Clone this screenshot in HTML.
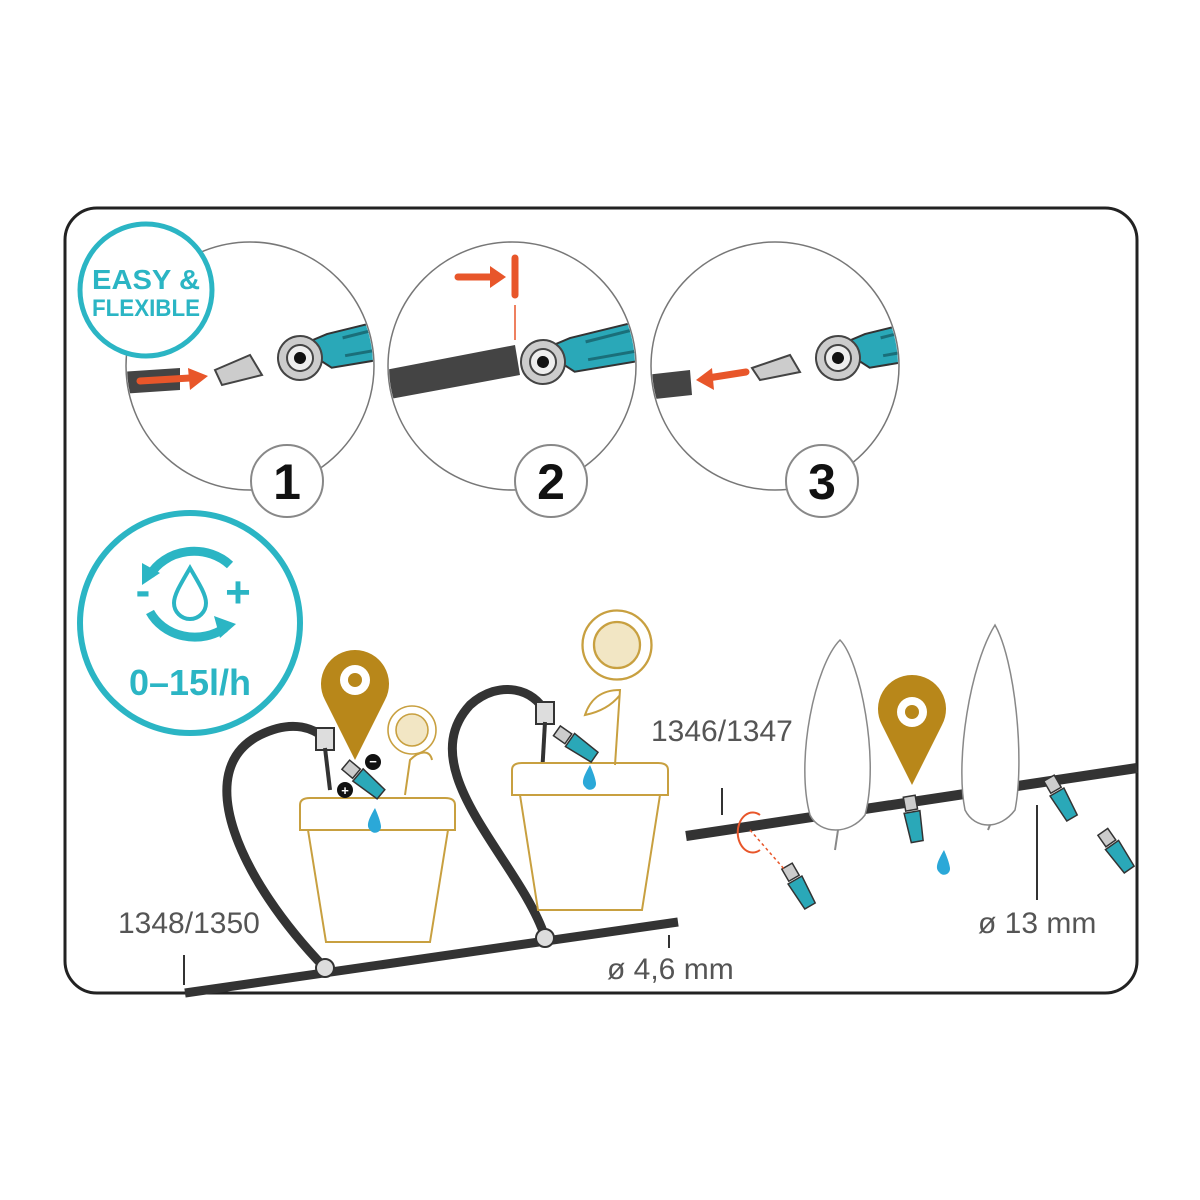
<!DOCTYPE html>
<html><head><style>
html,body{margin:0;padding:0;background:#fff;}
svg{display:block;}
text{font-family:"Liberation Sans",sans-serif;}
</style></head><body>
<svg width="1200" height="1200" viewBox="0 0 1200 1200">
<defs>
<clipPath id="c1"><circle cx="250" cy="366" r="123"/></clipPath>
<clipPath id="c2"><circle cx="512" cy="366" r="123"/></clipPath>
<clipPath id="c3"><circle cx="775" cy="366" r="123"/></clipPath>
<g id="conn">
  <path d="M0,-12 L30,-20 L110,-28 L110,12 L30,14 Z" fill="#2AA8B8" stroke="#333" stroke-width="2"/>
  <path d="M45,-14 L100,-20 M45,4 L100,2" stroke="#1a6f7a" stroke-width="3"/>
  <circle cx="0" cy="0" r="22" fill="#ccc" stroke="#444" stroke-width="2"/>
  <circle cx="0" cy="0" r="13" fill="#eee" stroke="#444" stroke-width="2"/>
  <circle cx="0" cy="0" r="6" fill="#111"/>
</g>
<g id="sun">
  <circle r="30" fill="#fff" stroke="#c8a040" stroke-width="2"/>
  <circle r="20" fill="#f2e6c4" stroke="#c8a040" stroke-width="2"/>
</g>
<g id="drip">
  <rect x="-6" y="-16" width="12" height="14" fill="#ccc" stroke="#333" stroke-width="1.5"/>
  <path d="M-8,0 L8,0 L6,30 L-6,30 Z" fill="#2AA8B8" stroke="#333" stroke-width="1.5"/>
</g>
</defs>

<rect x="65" y="208" width="1072" height="785" rx="32" fill="#fff" stroke="#222" stroke-width="3"/>

<circle cx="250" cy="366" r="124" fill="#fff" stroke="#777" stroke-width="1.5"/>
<circle cx="512" cy="366" r="124" fill="#fff" stroke="#777" stroke-width="1.5"/>
<circle cx="775" cy="366" r="124" fill="#fff" stroke="#777" stroke-width="1.5"/>

<g clip-path="url(#c1)">
<path d="M120,372 L180,368 L180,390 L120,394 Z" fill="#444"/>
<path d="M140,381 L190,378" stroke="#E8562A" stroke-width="7" stroke-linecap="round"/>
<path d="M188,368 L208,376 L190,390 Z" fill="#E8562A"/>
<path d="M215,370 L250,355 L262,375 L222,385 Z" fill="#ccc" stroke="#444" stroke-width="2"/>
<use href="#conn" transform="translate(300,358) rotate(-8)"/>
</g>

<g clip-path="url(#c2)">
<path d="M385,370 L515,345 L520,375 L385,400 Z" fill="#444"/>
<use href="#conn" transform="translate(543,362) rotate(-8)"/>
</g>
<path d="M458,277 L492,277" stroke="#E8562A" stroke-width="7" stroke-linecap="round"/>
<path d="M490,266 L506,277 L490,288 Z" fill="#E8562A"/>
<path d="M515,258 L515,295" stroke="#E8562A" stroke-width="7" stroke-linecap="round"/>
<path d="M515,305 L515,340" stroke="#E8562A" stroke-width="1.5"/>

<g clip-path="url(#c3)">
<path d="M645,375 L690,370 L692,395 L645,400 Z" fill="#444"/>
<path d="M708,378 L746,372" stroke="#E8562A" stroke-width="7" stroke-linecap="round"/>
<path d="M712,368 L696,380 L714,390 Z" fill="#E8562A"/>
<path d="M752,368 L790,355 L800,372 L760,380 Z" fill="#ccc" stroke="#444" stroke-width="2"/>
<use href="#conn" transform="translate(838,358) rotate(-8)"/>
</g>

<g font-size="50" font-weight="bold" text-anchor="middle" fill="#111">
<circle cx="287" cy="481" r="36" fill="#fff" stroke="#888" stroke-width="2"/><text x="287" y="499">1</text>
<circle cx="551" cy="481" r="36" fill="#fff" stroke="#888" stroke-width="2"/><text x="551" y="499">2</text>
<circle cx="822" cy="481" r="36" fill="#fff" stroke="#888" stroke-width="2"/><text x="822" y="499">3</text>
</g>

<circle cx="146" cy="290" r="66" fill="#fff" stroke="#2BB5C4" stroke-width="5"/>
<text x="146" y="289" font-size="28" font-weight="bold" fill="#2BB5C4" text-anchor="middle" textLength="108" lengthAdjust="spacingAndGlyphs">EASY &amp;</text>
<text x="146" y="316" font-size="24" font-weight="bold" fill="#2BB5C4" text-anchor="middle" textLength="108" lengthAdjust="spacingAndGlyphs">FLEXIBLE</text>

<circle cx="190" cy="623" r="110" fill="#fff" stroke="#2BB5C4" stroke-width="6"/>
<path d="M150,575 A50,45 0 0 1 230,565" fill="none" stroke="#2BB5C4" stroke-width="9"/>
<path d="M142,585 l0,-22 l18,10 Z" fill="#2BB5C4"/>
<path d="M150,612 A50,45 0 0 0 225,628" fill="none" stroke="#2BB5C4" stroke-width="9"/>
<path d="M236,624 l-22,-8 l6,22 Z" fill="#2BB5C4"/>
<path d="M190,568 C180,585 174,595 174,603 A16,16 0 0 0 206,603 C206,595 200,585 190,568 Z" fill="#fff" stroke="#2BB5C4" stroke-width="4"/>
<text x="143" y="605" font-size="44" font-weight="bold" fill="#2BB5C4" text-anchor="middle">-</text>
<text x="238" y="607" font-size="44" font-weight="bold" fill="#2BB5C4" text-anchor="middle">+</text>
<text x="190" y="695" font-size="36" font-weight="bold" fill="#2BB5C4" text-anchor="middle">0–15l/h</text>

<path d="M185,993 L678,922" stroke="#333" stroke-width="9"/>
<path d="M325,968 C240,880 190,770 260,735 C295,718 315,730 325,738" fill="none" stroke="#333" stroke-width="9"/>
<path d="M545,937 C520,860 410,770 470,705 C500,678 535,690 545,712" fill="none" stroke="#333" stroke-width="9"/>
<circle cx="325" cy="968" r="9" fill="#ddd" stroke="#333" stroke-width="2"/>
<circle cx="545" cy="938" r="9" fill="#ddd" stroke="#333" stroke-width="2"/>
<rect x="316" y="728" width="18" height="22" fill="#ddd" stroke="#333" stroke-width="2"/>
<rect x="536" y="702" width="18" height="22" fill="#ddd" stroke="#333" stroke-width="2"/>
<path d="M325,748 L330,790" stroke="#333" stroke-width="4"/>
<path d="M545,722 L542,775" stroke="#333" stroke-width="4"/>

<g fill="#fff" stroke="#c8a040" stroke-width="2">
<path d="M300,805 Q300,798 310,798 L445,798 Q455,798 455,805 L455,830 L300,830 Z"/>
<path d="M308,830 L448,830 L430,942 L326,942 Z"/>
<path d="M512,770 Q512,763 522,763 L658,763 Q668,763 668,770 L668,795 L512,795 Z"/>
<path d="M520,795 L660,795 L642,910 L538,910 Z"/>
<path d="M405,795 L410,760 C420,750 430,750 432,760 M615,765 L620,690 C600,690 590,700 585,715 C600,712 612,705 620,695"/>
</g>
<use href="#sun" transform="translate(412,730) scale(0.8)"/>
<use href="#sun" transform="translate(617,645) scale(1.15)"/>

<use href="#drip" transform="translate(358,775) rotate(-50)"/>
<use href="#drip" transform="translate(570,740) rotate(-55)"/>
<path d="M375,808 C368,820 366,826 370,830 A6,6 0 0 0 381,826 C380,820 378,815 375,808 Z" fill="#2BA8D8"/>
<path d="M590,765 C583,777 581,783 585,787 A6,6 0 0 0 596,783 C595,777 593,772 590,765 Z" fill="#2BA8D8"/>
<circle cx="345" cy="790" r="8" fill="#111"/><text x="345" y="795" font-size="13" fill="#fff" text-anchor="middle" font-weight="bold">+</text>
<circle cx="373" cy="762" r="8" fill="#111"/><text x="373" y="766" font-size="13" fill="#fff" text-anchor="middle" font-weight="bold">−</text>

<g fill="#B8871A">
<path d="M355,760 L325,700 A34,34 0 1 1 385,700 Z"/>
<path d="M912,785 L882,725 A34,34 0 1 1 942,725 Z"/>
</g>
<circle cx="355" cy="680" r="15" fill="#fff"/><circle cx="355" cy="680" r="7" fill="#B8871A"/>
<circle cx="912" cy="712" r="15" fill="#fff"/><circle cx="912" cy="712" r="7" fill="#B8871A"/>

<path d="M686,836 L1137,768" stroke="#333" stroke-width="10"/>
<g fill="#fff" stroke="#888" stroke-width="1.5">
<path d="M840,640 C860,660 880,760 865,815 C850,835 820,835 810,815 C795,760 815,665 840,640 Z"/>
<path d="M995,625 C1015,660 1025,760 1015,810 C1000,830 975,830 965,810 C955,760 970,665 995,625 Z"/>
</g>
<path d="M838,830 L835,850 M990,825 L988,830" stroke="#888" stroke-width="2"/>
<use href="#drip" transform="translate(912,812) rotate(-10)"/>
<path d="M944,850 C937,862 935,868 939,872 A6,6 0 0 0 950,868 C949,862 947,857 944,850 Z" fill="#2BA8D8"/>
<use href="#drip" transform="translate(1057,792) rotate(-30)"/>
<use href="#drip" transform="translate(1112,845) rotate(-35)"/>
<use href="#drip" transform="translate(795,880) rotate(-30)"/>
<path d="M750,830 L785,870" stroke="#E8562A" stroke-width="1.5" stroke-dasharray="3,3"/>
<path d="M760,815 A15,20 0 1 0 760,850" fill="none" stroke="#E8562A" stroke-width="2"/>
<path d="M722,788 L722,815 M1037,805 L1037,900 M669,935 L669,948 M184,955 L184,985" stroke="#333" stroke-width="2"/>

<g font-size="30" fill="#555">
<text x="118" y="933">1348/1350</text>
<text x="607" y="979">ø 4,6 mm</text>
<text x="651" y="741">1346/1347</text>
<text x="978" y="933">ø 13 mm</text>
</g>
</svg>
</body></html>
